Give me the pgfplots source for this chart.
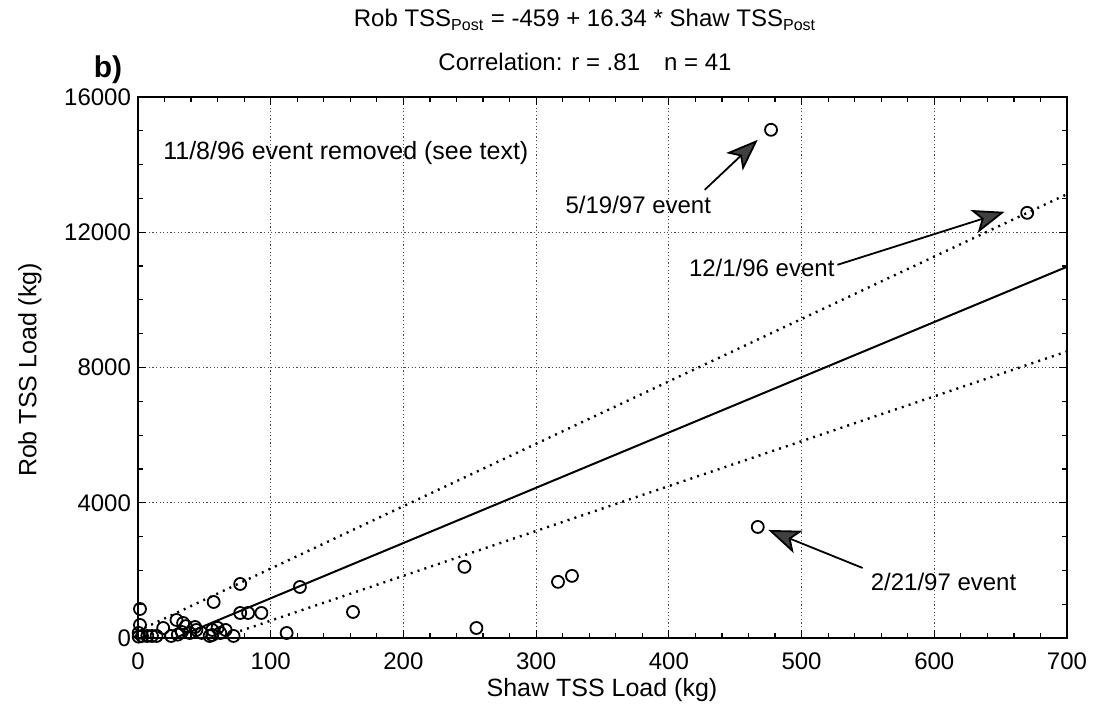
\documentclass[border=0pt]{standalone}
\usepackage{pgfplots}
\pgfplotsset{compat=1.18}
\usepackage{fontspec}
\setmainfont{Liberation Sans}
\usetikzlibrary{arrows.meta}
\pgfplotstableread{
x y
477 15030
670 12574
467 3284
246 2104
316.5 1660
327 1837
255 296
162 770
122 1509
112 148
93 740
83 740
77 740
77 1598
57 1065
1.5 858
1.5 385
0.5 150
3 60
7 60
10.5 60
14 60
19 296
29 533
34 444
33 178
43 325
44 237
39 148
56 237
56 89
62 148
66 237
72 60
54 60
36 350
25 60
48 150
60 300
0.5 40
30 100
}\pts
\begin{document}
\begin{tikzpicture}
\path[use as bounding box] (-69pt,-39.5pt) rectangle (478pt,319pt);
\begin{axis}[
  at={(0,0)}, anchor=south west,
  scale only axis, width=464.5pt, height=270.5pt,
  xmin=0, xmax=700, ymin=0, ymax=16000,
  xtick={0,100,...,700}, ytick={0,4000,8000,12000,16000},
  minor x tick num=4, minor y tick num=3,
  tick align=inside,
  major tick length=4pt, minor tick length=2.5pt,
  tick style={line width=0.6pt, black},
  axis line style={line width=0.9pt},
  grid=major,
  major grid style={line width=0.5pt, dash pattern=on 0.6pt off 1.2pt, black!70},
  /pgf/number format/assume math mode=true,
  /pgf/number format/1000 sep={},
  scaled ticks=false,
  ticklabel style={font=\fontsize{12}{14}\selectfont},
  xticklabel style={yshift=-4pt},
  clip mode=individual,
]
\addplot[only marks, mark=o, mark size=3pt, mark options={line width=0.9pt}] table[x=x,y=y]{\pts};
\addplot[line width=1pt, no marks] coordinates {(28.1,0) (700,10979)};
\addplot[line width=1.2pt, no marks, dash pattern=on 1pt off 2.6pt] coordinates {(5,300) (700,13126)};
\addplot[line width=1.2pt, no marks, dash pattern=on 1pt off 2.6pt] coordinates {(77,207) (700,8474)};
\node[anchor=west, inner sep=0pt, font=\fontsize{12.5}{14}\selectfont] at (axis cs:18.8,14350) {11/8/96 event removed (see text)};
\node[font=\fontsize{12}{14}\selectfont] at (axis cs:377,12810) {5/19/97 event};
\node[font=\fontsize{12}{14}\selectfont] at (axis cs:470,10947) {12/1/96 event};
\node[font=\fontsize{12}{14}\selectfont] at (axis cs:607,1657) {2/21/97 event};
\draw[line width=0.9pt, -{Stealth[length=16pt,width=12pt,fill=black!75,inset=4pt]}] (axis cs:427,13254) -- (axis cs:467,14734);
\draw[line width=0.9pt, -{Stealth[length=16pt,width=12pt,fill=black!75,inset=4pt]}] (axis cs:527,11036) -- (axis cs:653,12604);
\draw[line width=0.9pt, -{Stealth[length=16pt,width=12pt,fill=black!75,inset=4pt]}] (axis cs:546,2071) -- (axis cs:475,3195);
\end{axis}
\node[font=\fontsize{12}{14}\selectfont] at (223.5pt,309pt) {Rob TSS\textsubscript{Post} = -459 + 16.34 * Shaw TSS\textsubscript{Post}};
\node[font=\fontsize{12}{14}\selectfont] at (223.5pt,288pt) {Correlation: r = .81\quad n = 41};
\node[font=\fontsize{15}{17}\bfseries, inner sep=0pt] at (-15pt,284pt) {b)};
\node[font=\fontsize{12.5}{14}\selectfont] at (232pt,-26pt) {Shaw TSS Load (kg)};
\node[font=\fontsize{12.5}{14}\selectfont, rotate=90] at (-54pt,134pt) {Rob TSS Load (kg)};
\end{tikzpicture}
\end{document}
